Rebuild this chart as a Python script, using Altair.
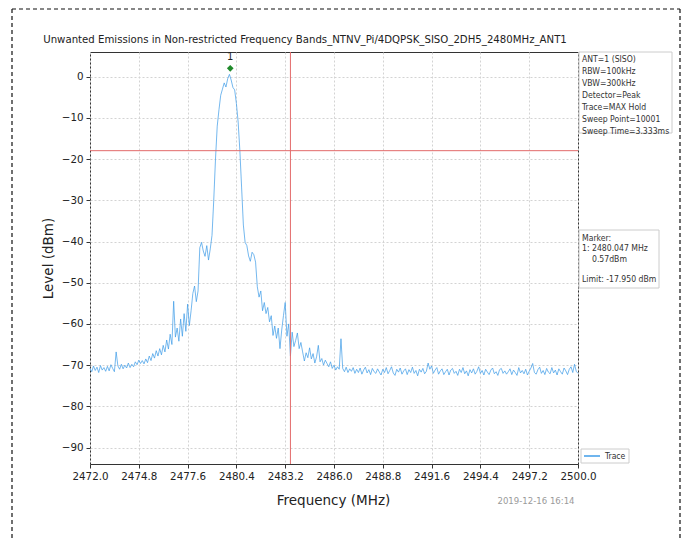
import altair as alt
import numpy as np
import pandas as pd

TITLE = "Unwanted Emissions in Non-restricted Frequency Bands_NTNV_Pi/4DQPSK_SISO_2DH5_2480MHz_ANT1"
F_START = 2472.0
F_STEP = 0.1
LEVELS = [
    -70.8, -71.6, -70.2, -71.3, -70.5, -71.8, -70.1, -71.2, -70.6, -71.5,
    -70.3, -71.4, -69.9, -70.8, -71.6, -66.8, -70.2, -71.0, -69.8, -70.9,
    -70.0, -70.7, -69.5, -70.6, -69.8, -70.4, -69.2, -69.9, -68.8, -69.6,
    -68.9, -69.7, -68.5, -69.4, -67.8, -68.9, -67.2, -68.3, -66.5, -67.8,
    -66.0, -67.5, -65.2, -66.8, -63.9, -66.1, -62.5, -65.0, -54.5, -63.2,
    -61.0, -64.2, -58.8, -63.0, -57.5, -61.8, -55.2, -60.4, -56.8, -52.6,
    -50.8, -54.6, -52.0, -41.5, -40.2, -42.3, -43.6, -41.0, -44.5, -41.8,
    -38.5, -30.0, -20.0, -12.0, -8.0, -4.5, -3.0, -1.5, -2.5, -0.5,
    0.57, -0.8, -2.6, -3.2, -6.5, -11.0, -18.0, -27.0, -36.0, -40.2,
    -41.0, -43.5, -44.8, -42.6, -43.2, -45.0, -51.0, -53.5, -52.0, -56.8,
    -54.8, -57.5, -56.0, -59.5, -58.0, -62.8, -60.5, -63.5, -61.0, -66.0,
    -61.5, -58.0, -54.8, -63.0, -60.0, -67.8, -62.0, -65.5, -64.0, -62.2,
    -66.0, -64.5, -66.8, -69.0, -67.0, -68.2, -65.8, -68.5, -67.2, -69.5,
    -68.0, -65.2, -69.2, -68.4, -70.0, -68.8, -69.6, -70.4, -69.2, -70.8,
    -70.0, -71.2, -70.4, -71.0, -63.6, -70.8, -71.6, -70.5, -71.8, -70.9,
    -71.5, -70.6, -72.0, -71.0, -71.8, -70.7, -72.2, -71.2, -70.5, -71.9,
    -71.1, -72.3, -70.8, -71.6, -72.0, -70.9, -71.7, -72.4, -71.0, -71.8,
    -70.6, -72.1, -71.3, -70.4, -71.9, -72.5, -71.0, -71.7, -70.7, -72.2,
    -71.4, -70.9, -72.3, -71.1, -71.8, -70.5, -72.0, -71.3, -72.6, -71.0,
    -71.7, -70.8, -72.1, -71.5, -69.5, -71.0, -70.2, -72.0, -71.2, -70.6,
    -72.2, -71.4, -70.9, -72.3, -71.6, -71.0, -72.4, -71.2, -70.8, -72.0,
    -71.5, -72.5, -71.0, -71.8, -70.6, -72.1, -71.4, -72.6, -71.1, -71.9,
    -70.9, -72.2, -71.5, -70.4, -72.0, -71.3, -72.4, -71.0, -71.7, -72.3,
    -71.2, -70.7, -72.1, -71.6, -72.5, -71.1, -70.8, -72.0, -71.4, -72.2,
    -71.6, -70.9, -72.3, -71.2, -71.8, -72.5, -70.6, -71.9, -71.3, -72.1,
    -71.0, -72.4, -71.5, -70.7, -69.6, -71.8, -72.2, -71.1, -70.5, -72.0,
    -71.3, -72.3, -70.8, -71.7, -72.1, -70.6, -71.9, -71.2, -72.4, -70.9,
    -71.6, -72.2, -70.7, -71.4, -72.3, -71.0, -70.4, -71.8, -69.8, -71.5,
    -72.0,
]
X_TICKS = [2472.0, 2474.8, 2477.6, 2480.4, 2483.2, 2486.0, 2488.8, 2491.6, 2494.4, 2497.2, 2500.0]
Y_TICKS = [0, -10, -20, -30, -40, -50, -60, -70, -80, -90]
LIMIT = -17.950
EDGE_FREQ = 2483.5
MARKER_FREQ = 2480.047
MARKER_LEVEL = 0.57
INFO_LINES = ["ANT=1 (SISO)", "RBW=100kHz", "VBW=300kHz", "Detector=Peak",
              "Trace=MAX Hold", "Sweep Point=10001", "Sweep Time=3.333ms"]
MARKER_LINES = ["Marker:", "1: 2480.047 MHz", "0.57dBm", "Limit: -17.950 dBm"]
TIMESTAMP = "2019-12-16 16:14"

FONT_C = "DejaVu Sans Condensed, DejaVu Sans"
FONT = "DejaVu Sans"
W, H = 488, 412
LINE_COLOR = "#3f9ce8"
RED = "#e36a6a"

freqs = np.round(F_START + F_STEP * np.arange(len(LEVELS)), 1)
trace = pd.DataFrame({"freq": freqs, "level": LEVELS})

xs = alt.Scale(domain=[2472.0, 2500.0], nice=False, zero=False)
ys = alt.Scale(domain=[-94.0, 6.0], nice=False, zero=False)

x_axis = alt.Axis(values=X_TICKS, format=".1f", title="Frequency (MHz)",
                  titleFontSize=13.5, titleFontWeight="normal", titleX=243, titleY=36,
                  titleBaseline="middle", labelFontSize=10.3, labelPadding=3,
                  labelFlush=False, labelOverlap=False,
                  tickSize=4, gridDash=[2, 2], gridColor="#d3d3d3", domain=False)
y_axis = alt.Axis(values=Y_TICKS, format="d", title="Level (dBm)",
                  titleFontSize=13.5, titleFontWeight="normal", titleX=-42, titleY=206,
                  titleAngle=-90, titleBaseline="middle", titleAlign="center",
                  labelFontSize=10.3, labelPadding=3, tickSize=4,
                  labelFlush=False, labelOverlap=False,
                  gridDash=[2, 2], gridColor="#d3d3d3", domain=False)

line = alt.Chart(trace).mark_line(color=LINE_COLOR, strokeWidth=0.8, opacity=0.9).encode(
    x=alt.X("freq:Q", scale=xs, axis=x_axis),
    y=alt.Y("level:Q", scale=ys, axis=y_axis),
)

hrule = alt.Chart(pd.DataFrame({"y": [LIMIT]})).mark_rule(color=RED, strokeWidth=1).encode(
    y=alt.Y("y:Q", scale=ys))
vrule = alt.Chart(pd.DataFrame({"x": [EDGE_FREQ]})).mark_rule(color=RED, strokeWidth=1).encode(
    x=alt.X("x:Q", scale=xs))

mk = pd.DataFrame({"freq": [MARKER_FREQ], "level": [MARKER_LEVEL], "lab": ["1"]})
marker = alt.Chart(mk).mark_point(shape="diamond", filled=True, color="#1f8a2a",
                                  size=45, opacity=1, yOffset=-6).encode(
    x=alt.X("freq:Q", scale=xs), y=alt.Y("level:Q", scale=ys))
marker_lab = alt.Chart(mk).mark_text(fontSize=10, font=FONT, color="#222", yOffset=-17,
                                     baseline="middle").encode(
    x=alt.X("freq:Q", scale=xs), y=alt.Y("level:Q", scale=ys), text="lab:N")

def box(x1, x2, y1, y2):
    return alt.Chart(pd.DataFrame({"a": [0]})).mark_rect(
        fill="white", stroke="#cccccc", strokeWidth=1).encode(
        x=alt.value(x1), x2=alt.value(x2), y=alt.value(y1), y2=alt.value(y2))

def text_lines(lines, xpos, ypos, size=8.6, color="#333"):
    df = pd.DataFrame({"t": lines, "px": xpos, "py": ypos})
    return alt.Chart(df).mark_text(
        align="left", baseline="middle", fontSize=size, font=FONT_C, color=color).encode(
        x=alt.X("px:Q", scale=None), y=alt.Y("py:Q", scale=None), text="t:N")

info_box = box(489, 582, 0, 81)
info_txt = text_lines(INFO_LINES, [492] * 7, [6.5 + 12 * i for i in range(7)])
mark_box = box(489, 569, 178, 236)
mark_txt = text_lines(MARKER_LINES, [492, 492, 502, 492], [185.5, 196, 206.5, 227])

leg_box = box(491, 539, 397, 411)
leg_line = alt.Chart(pd.DataFrame({"a": [0]})).mark_rule(color=LINE_COLOR, strokeWidth=1.5).encode(
    x=alt.value(494), x2=alt.value(510), y=alt.value(404))
leg_txt = text_lines(["Trace"], [515], [404])

title_txt = alt.Chart(pd.DataFrame({"a": [0]})).mark_text(
    text=TITLE, align="center", baseline="middle", fontSize=11.3, font=FONT_C, color="#222").encode(
    x=alt.value(215), y=alt.value(-12))
stamp_txt = alt.Chart(pd.DataFrame({"a": [0]})).mark_text(
    text=TIMESTAMP, align="center", baseline="middle", fontSize=9.5, font=FONT_C, color="#9a9a9a").encode(
    x=alt.value(446), y=alt.value(449))

frame = alt.Chart(pd.DataFrame({"a": [0]})).mark_rule(
    color="#111", strokeDash=[4, 3], strokeWidth=1.2).encode(
    x=alt.value(-78), y=alt.value(-43), y2=alt.value(486))
frame_top = alt.Chart(pd.DataFrame({"a": [0]})).mark_rule(
    color="#111", strokeDash=[4, 3], strokeWidth=1.2).encode(
    x=alt.value(-78), x2=alt.value(590), y=alt.value(-43))
frame_r = alt.Chart(pd.DataFrame({"a": [0]})).mark_rule(
    color="#111", strokeDash=[4, 3], strokeWidth=1.2).encode(
    x=alt.value(590), y=alt.value(-43), y2=alt.value(486))

chart = alt.layer(
    line, hrule, vrule, marker, marker_lab,
    info_box, info_txt, mark_box, mark_txt, leg_box, leg_line, leg_txt,
    title_txt, stamp_txt, frame, frame_top, frame_r,
).properties(
    width=W, height=H,
    autosize=alt.AutoSizeParams(type="none"),
    padding={"left": 82, "top": 44, "right": 104, "bottom": 74},
    background="white",
).configure_view(
    stroke="#333333", strokeWidth=1,
).configure_axis(
    labelFont=FONT, titleFont=FONT, labelColor="#222", titleColor="#222",
    tickColor="#333",
)

chart.save("out.html", embed_options={"renderer": "svg", "actions": False})
